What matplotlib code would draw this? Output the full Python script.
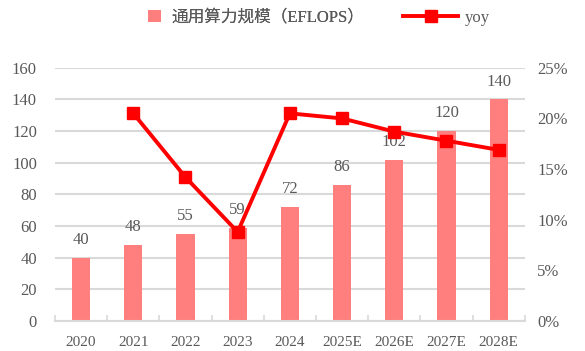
import matplotlib
matplotlib.use("Agg")
import matplotlib.pyplot as plt
from matplotlib.patches import Patch
from matplotlib.lines import Line2D
from matplotlib.ticker import FuncFormatter

years = ["2020", "2021", "2022", "2023", "2024", "2025E", "2026E", "2027E", "2028E"]
compute_eflops = [40, 48, 55, 59, 72, 86, 102, 120, 140]
yoy_pct = [None, 20.5, 14.2, 8.8, 20.5, 20.0, 18.7, 17.8, 16.9]

bar_color = "#FF7F7F"
line_color = "#FF0000"
text_color = "#595959"
grid_color = "#D9D9D9"
num_font = "Liberation Serif"
cjk_fonts = ["Liberation Serif", "Noto Sans CJK SC"]

fig = plt.figure(figsize=(5.85, 3.51), dpi=100)
ax = fig.add_axes([0.094, 0.085, 0.803, 0.722])
x = list(range(len(years)))

ax.bar(x, compute_eflops, width=0.35, color=bar_color, zorder=2)
for xi, v in zip(x, compute_eflops):
    ax.annotate(f"{v}", (xi, v), xytext=(0, 7), textcoords="offset points",
                ha="center", va="bottom", fontsize=12, color=text_color,
                family=num_font, zorder=3)

ax.set_ylim(0, 160)
ax.set_xlim(-0.5, len(years) - 0.5)
ax.set_yticks(range(0, 161, 20))
ax.yaxis.grid(True, color=grid_color, linewidth=1.5, zorder=0)
ax.set_axisbelow(True)
for s in ["top", "right", "left"]:
    ax.spines[s].set_visible(False)
ax.spines["bottom"].set_color(grid_color)
ax.spines["bottom"].set_linewidth(1.5)
ax.tick_params(axis="y", length=0, pad=13, labelsize=12, labelcolor=text_color)
ax.set_xticks(x)
ax.set_xticklabels(years)
ax.tick_params(axis="x", length=0, pad=11, labelsize=11, labelcolor=text_color)
ax.set_xticks([i - 0.5 for i in range(len(years) + 1)], minor=True)
ax.tick_params(axis="x", which="minor", length=4, color=grid_color, width=1.2, direction="in")
for lbl in ax.get_xticklabels() + ax.get_yticklabels():
    lbl.set_family(num_font)

ax2 = ax.twinx()
xs = [xi for xi, v in zip(x, yoy_pct) if v is not None]
ys = [v for v in yoy_pct if v is not None]
ax2.plot(xs, ys, color=line_color, linewidth=2.8, marker="s", markersize=8.5, zorder=5)
ax2.set_ylim(0, 25)
ax2.set_yticks(range(0, 26, 5))
ax2.yaxis.set_major_formatter(FuncFormatter(lambda v, p: f"{int(v)}%"))
for s in ["top", "right", "left", "bottom"]:
    ax2.spines[s].set_visible(False)
ax2.tick_params(axis="y", length=0, pad=9, labelsize=12, labelcolor=text_color)
for lbl in ax2.get_yticklabels():
    lbl.set_family(num_font)

# legend: two separate entries so each handle can have its own size
leg1 = fig.legend(handles=[Patch(facecolor=bar_color, edgecolor="none", label="通用算力规模（EFLOPS）")],
                  loc="center left", bbox_to_anchor=(0.228, 0.950), frameon=False,
                  handlelength=0.75, handleheight=0.75, handletextpad=0.6,
                  prop={"family": cjk_fonts, "size": 12}, labelcolor=text_color)
leg2 = fig.legend(handles=[Line2D([], [], color=line_color, linewidth=2.8, marker="s",
                                  markersize=8.5, label="yoy")],
                  loc="center left", bbox_to_anchor=(0.664, 0.950), frameon=False,
                  handlelength=3.3, handletextpad=0.4,
                  prop={"family": cjk_fonts, "size": 12}, labelcolor=text_color)
fig.add_artist(leg1)

fig.savefig("out.png", dpi=100)
